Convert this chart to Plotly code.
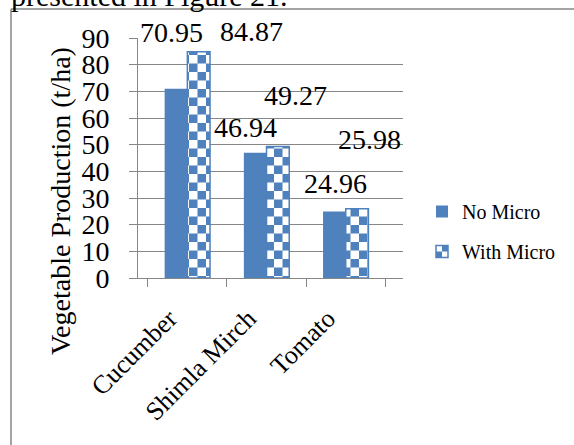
import plotly.graph_objects as go

# Vegetable yield (t/ha) with and without micronutrients
crops = ["Cucumber", "Shimla Mirch", "Tomato"]
no_micro = [70.95, 46.94, 24.96]
with_micro = [84.87, 49.27, 25.98]
y_ticks = [0, 10, 20, 30, 40, 50, 60, 70, 80, 90]
Y_MAX = 90

# where the value labels sit (category index, height in t/ha)
no_micro_label_pos = [(-0.20, 92.1), (0.73, 56.6), (1.87, 35.4)]
with_micro_label_pos = [(0.81, 92.4), (1.37, 68.3), (2.30, 52.1)]

W, H = 574, 445
ML, MR, MT, MB = 138, 171, 38, 167
PW, PH = W - ML - MR, H - MT - MB

BLUE = "#4F81BD"
GRID = "#868686"
SERIF = "Liberation Serif, Times New Roman, serif"
CHECK = 17  # checkerboard tile size (px)


def px_x(p):
    return (p - ML) / PW


def px_y(p):
    return (H - MB - p) / PH


fig = go.Figure()
fig.add_trace(go.Bar(
    x=crops, y=no_micro, name="No Micro", legendgroup="a",
    marker=dict(color=BLUE, line=dict(width=0)),
))
fig.add_trace(go.Bar(
    x=crops, y=with_micro, name="With Micro", legendgroup="b",
    marker=dict(color=BLUE, line=dict(color=BLUE, width=1.5),
                pattern=dict(shape=".", fgcolor="#FFFFFF", bgcolor=BLUE,
                             size=CHECK, solidity=0.4)),
))

annotations = []
for vals, pos in ((no_micro, no_micro_label_pos), (with_micro, with_micro_label_pos)):
    for v, (lx, ly) in zip(vals, pos):
        annotations.append(dict(
            x=lx, y=ly / Y_MAX, xref="x", yref="paper", text=f"{v:.2f}",
            showarrow=False, font=dict(family=SERIF, size=28, color="#000000"),
            xanchor="center", yanchor="middle",
        ))

# y-axis title
annotations.append(dict(
    x=px_x(60), y=px_y(201), xref="paper", yref="paper",
    text="Vegetable Production (t/ha)", textangle=-90, showarrow=False,
    font=dict(family=SERIF, size=28, color="#000000"),
    xanchor="center", yanchor="middle",
))
# running text of the page above the chart frame
annotations.append(dict(
    x=px_x(10), y=px_y(12.5), xref="paper", yref="paper",
    text="presented in Figure 21.", showarrow=False, borderpad=0,
    font=dict(family=SERIF, size=30, color="#000000"),
    xanchor="left", yanchor="bottom",
))

shapes = [
    dict(type="line", xref="paper", yref="paper",
         x0=px_x(11), x1=px_x(11), y0=px_y(9), y1=px_y(460),
         line=dict(color=GRID, width=1.5)),
    dict(type="line", xref="paper", yref="paper",
         x0=px_x(11), x1=px_x(590), y0=px_y(9), y1=px_y(9),
         line=dict(color=GRID, width=1.5)),
]

fig.update_layout(
    width=W, height=H,
    margin=dict(l=ML, r=MR, t=MT, b=MB, autoexpand=False),
    paper_bgcolor="#FFFFFF", plot_bgcolor="#FFFFFF",
    barmode="group", bargap=0.427, bargroupgap=0,
    font=dict(family=SERIF, color="#000000"),
    showlegend=True,
    legend=dict(
        x=px_x(422), y=px_y(192), xanchor="left", yanchor="top",
        font=dict(family=SERIF, size=20, color="#000000"),
        tracegroupgap=11, traceorder="grouped", bgcolor="rgba(0,0,0,0)",
    ),
    xaxis=dict(
        type="category", showline=True, linecolor=GRID, linewidth=1,
        ticks="outside", ticklen=8, tickcolor=GRID, tickson="boundaries",
        tickangle=-45, tickfont=dict(family=SERIF, size=26, color="#000000"),
        ticklabelshift=-18, ticklabelstandoff=14,
        showgrid=False, automargin=False,
    ),
    yaxis=dict(
        range=[0, Y_MAX], tickvals=y_ticks, showline=True, linecolor=GRID, linewidth=1,
        ticks="outside", ticklen=8, tickcolor=GRID, showgrid=True,
        gridcolor=GRID, gridwidth=1, zeroline=False, ticklabelstandoff=14,
        tickfont=dict(family=SERIF, size=28, color="#000000"), automargin=False,
    ),
    annotations=annotations,
    shapes=shapes,
)

# turn the dot fill of the patterned bars into a checkerboard
checker_js = """
var gd = document.getElementById('{plot_id}');
var NS = 'http://www.w3.org/2000/svg';
var s = %d, h = s / 2;
gd.querySelectorAll('pattern').forEach(function (p) {
  p.setAttribute('width', s);
  p.setAttribute('height', s);
  while (p.firstChild) { p.removeChild(p.firstChild); }
  function rect(x, y, w, hh, fill) {
    var r = document.createElementNS(NS, 'rect');
    r.setAttribute('x', x); r.setAttribute('y', y);
    r.setAttribute('width', w); r.setAttribute('height', hh);
    r.setAttribute('fill', fill);
    p.appendChild(r);
  }
  rect(0, 0, s, s, '%s');
  rect(0, 0, h, h, '#FFFFFF');
  rect(h, h, h, h, '#FFFFFF');
});
""" % (CHECK, BLUE)

fig.write_html("out.html", post_script=checker_js)
